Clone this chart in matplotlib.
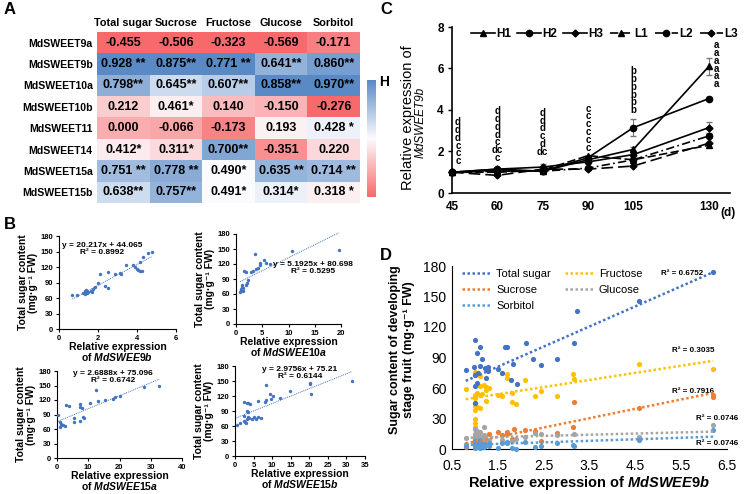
import matplotlib
matplotlib.use('Agg')
import matplotlib.pyplot as plt
import numpy as np
from matplotlib.colors import LinearSegmentedColormap, TwoSlopeNorm
from matplotlib.lines import Line2D

plt.rcParams['font.family'] = ['Liberation Sans', 'DejaVu Sans']
plt.rcParams['mathtext.fontset'] = 'custom'
plt.rcParams['mathtext.rm'] = 'Liberation Sans:bold'
plt.rcParams['mathtext.it'] = 'Liberation Sans:italic:bold'
plt.rcParams['mathtext.bf'] = 'Liberation Sans:bold'

# ---- A: correlation heatmap ----
genes = ['MdSWEET9a', 'MdSWEET9b', 'MdSWEET10a', 'MdSWEET10b',
         'MdSWEET11', 'MdSWEET14', 'MdSWEET15a', 'MdSWEET15b']
sugars = ['Total sugar', 'Sucrose', 'Fructose', 'Glucose', 'Sorbitol']
corr = np.array([
    [-0.455, -0.506, -0.323, -0.569, -0.171],
    [0.928, 0.875, 0.771, 0.641, 0.860],
    [0.798, 0.645, 0.607, 0.858, 0.970],
    [0.212, 0.461, 0.140, -0.150, -0.276],
    [0.000, -0.066, -0.173, 0.193, 0.428],
    [0.412, 0.311, 0.700, -0.351, 0.220],
    [0.751, 0.778, 0.490, 0.635, 0.714],
    [0.638, 0.757, 0.491, 0.314, 0.318],
])
stars = [
    ['', '', '', '', ''],
    [' **', '**', ' **', '**', '**'],
    ['**', '**', '**', '**', '**'],
    ['', '*', '', '', ''],
    ['', '', '', '', ' *'],
    ['*', '*', '**', '', ''],
    [' **', ' **', '*', ' **', ' **'],
    ['**', '**', '*', '*', ' *'],
]

# ---- B: scatter of total sugar vs expression ----
b1_x = [0.69, 0.93, 1.23, 1.32, 1.41, 1.44, 1.35, 1.5, 1.66, 1.75, 1.84, 1.7, 2.0, 2.09,
        2.35, 2.52, 2.52, 2.86, 3.12, 3.2, 3.46, 3.8, 3.9, 3.98, 4.07, 4.15, 4.24, 4.15,
        4.29, 4.58, 4.75]
b1_y = [65, 65, 70, 73, 76, 70, 68, 72, 73, 78, 81, 71, 89, 106, 83, 110, 80, 107, 108,
        107, 123, 123, 120, 117, 114, 112, 112, 130, 140, 147, 149]
b2_x = [0.76, 0.95, 1.2, 1.4, 0.9, 1.1, 1.3, 1.6, 1.9, 1.9, 2.0, 2.2, 2.9, 3.3, 3.75, 4.1,
        4.6, 4.6, 3.6, 5.3, 5.8, 6.5, 10.7, 19.6]
b2_y = [65, 70, 75, 72, 68, 78, 66, 106, 104, 78, 83, 89, 104, 107, 110, 113, 118, 122,
        140, 128, 122, 120, 146, 147]
b3_x = [0.3, 0.9, 1.2, 0.9, 1.4, 1.9, 2.5, 2.8, 3.9, 5.4, 5.4, 7.3, 7.3, 7.5, 8.0, 8.3,
        8.7, 10.7, 12.6, 13.0, 15.3, 17.8, 18.5, 20.2, 27.8, 32.7]
b3_y = [90, 75, 68, 65, 71, 68, 66, 109, 107, 75, 82, 77, 112, 105, 104, 85, 82, 114, 141,
        117, 121, 123, 126, 129, 147, 149]
b4_x = [0.45, 1.4, 2.5, 2.7, 3.2, 3.4, 3.0, 2.5, 2.5, 3.1, 3.6, 4.1, 3.3, 3.6, 3.9, 4.5,
        5.0, 5.7, 6.3, 7.1, 6.2, 8.4, 8.4, 8.1, 9.5, 10.1, 9.8, 12.2, 14.9, 20.2, 20.2,
        20.5, 31.4]
b4_y = [62, 67, 71, 68, 74, 78, 67, 81, 108, 107, 106, 105, 91, 88, 76, 75, 79, 75, 78,
        77, 110, 142, 113, 109, 125, 121, 114, 117, 131, 147, 144, 125, 151]
b_slope = [20.217, 5.1925, 2.6888, 2.9756]
b_inter = [44.065, 80.698, 75.096, 75.21]
b_r2 = ['0.8992', '0.5295', '0.6742', '0.6144']
b_genes = ['MdSWEE9b', 'MdSWEE10a', 'MdSWEE15a', 'MdSWEE15b']

# ---- C: expression time course ----
days = [45, 60, 75, 90, 105, 130]
h1 = [1.0, 1.1, 1.05, 1.6, 2.1, 6.1]
h2 = [1.0, 1.15, 1.05, 1.7, 3.15, 4.55]
h3 = [1.0, 1.15, 1.25, 1.5, 1.85, 3.15]
l1 = [1.0, 1.0, 1.1, 1.8, 1.6, 2.3]
l2 = [1.0, 1.05, 1.05, 1.2, 1.6, 2.75]
l3 = [1.0, 0.85, 1.15, 1.15, 1.3, 2.4]
h1_err = [0.03, 0.06, 0.05, 0.08, 0.1, 0.4]
h2_err = [0.03, 0.06, 0.05, 0.08, 0.4, 0.08]
h3_err = [0.03, 0.05, 0.15, 0.08, 0.1, 0.25]
letters = [['d', 'd', 'd', 'c', 'c', 'c'],
           ['d', 'd', 'd', 'd', 'c', 'dc', 'c'],
           ['d', 'd', 'd', 'c', 'd', 'dc'],
           ['c', 'c', 'c', 'c', 'c', 'c'],
           ['b', 'b', 'b', 'b', 'b', 'b'],
           ['a', 'a', 'a', 'a', 'a', 'a']]

# ---- D: sugar content vs MdSWEET9b ----
tot_x = [0.8, 1.0, 0.99, 1.0, 1.0, 1.0, 1.04, 1.1, 1.11, 1.07, 1.04, 1.15, 1.22, 1.25, 1.29,
         1.25, 1.29, 1.51, 1.58, 1.66, 1.69, 1.78, 1.84, 1.91, 2.11, 2.27, 2.44, 2.8, 3.17,
         3.22, 4.58, 6.2]
tot_y = [78, 107, 81, 73, 62, 45, 94, 100, 82, 75, 65, 89, 80, 79, 81, 70, 77, 79, 75, 100,
         100, 68, 84, 64, 104, 89, 83, 89, 104, 136, 146, 174]
fru_x = [0.8, 1.0, 1.0, 1.0, 1.0, 1.0, 1.0, 1.0, 1.0, 1.0, 1.0, 1.05, 1.05, 1.05, 1.1, 1.1,
         1.1, 1.1, 1.15, 1.2, 1.25, 1.25, 1.25, 1.3, 1.5, 1.6, 1.6, 1.7, 1.7, 1.8, 1.8, 1.9,
         2.1, 2.3, 2.45, 2.8, 3.15, 3.17, 4.58, 6.2]
fru_y = [59, 76, 73, 53, 50, 45, 42, 38, 30, 26, 22, 63, 55, 41, 72, 62, 53, 40, 54, 63, 61,
         58, 47, 60, 53, 52, 75, 70, 74, 55, 46, 44, 68, 52, 57, 52, 74, 69, 84, 79]
suc_x = [0.8, 1.0, 1.0, 1.0, 1.0, 1.1, 1.1, 1.2, 1.3, 1.5, 1.6, 1.7, 1.7, 1.8, 1.85, 2.1,
         2.3, 2.45, 2.8, 3.15, 3.17, 4.58, 6.2, 6.2]
suc_y = [2, 5, 8, 10, 12, 9, 6, 8, 15, 17, 14, 15, 17, 10, 20, 19, 18, 8, 16, 22, 46, 40,
         51, 53]
glu_x = [0.8, 0.8, 1.0, 1.0, 1.0, 1.0, 1.0, 1.05, 1.05, 1.1, 1.1, 1.2, 1.2, 1.2, 1.3, 1.6,
         1.8, 1.9, 2.1, 2.3, 2.45, 2.8, 3.17, 4.58, 6.2]
glu_y = [11, 5, 20, 15, 12, 10, 7, 18, 14, 17, 12, 22, 14, 10, 9, 9, 8, 10, 12, 16, 15, 14,
         15, 12, 24]
sor_x = [0.8, 1.0, 1.0, 1.0, 1.0, 1.05, 1.05, 1.1, 1.1, 1.1, 1.2, 1.2, 1.3, 1.3, 1.5, 1.6,
         1.7, 1.7, 1.8, 1.9, 2.1, 2.3, 2.45, 2.8, 3.15, 3.17, 4.58, 6.2]
sor_y = [3, 8, 5, 3, 1, 6, 2, 4, 1, 9, 5, 2, 6, 3, 1, 6, 6, 7, 1, 0, 7, 2, 3, 6, 4, 3, 9, 19]
d_names = ['Total sugar', 'Sucrose', 'Sorbitol', 'Fructose', 'Glucose']
d_colors = ['#4472C4', '#ED7D31', '#5B9BD5', '#FFC000', '#A5A5A5']
d_slope = [19.8, 9.2, 1.5, 7.0, 1.13]
d_inter = [51.2, -1.9, 2.8, 43.4, 10.1]
d_r2 = ['0.6752', '0.7916', '0.0746', '0.3035', '0.0746']

W, H = 745, 494
fig = plt.figure(figsize=(7.45, 4.94), dpi=100)


def box(x0, y0, x1, y1):
    return [x0 / W, 1 - y1 / H, (x1 - x0) / W, (y1 - y0) / H]


# ---------- A ----------
cmap = LinearSegmentedColormap.from_list('rwb', ['#F8696B', '#FCFCFF', '#5A8AC6'])
ax = fig.add_axes(box(97, 32, 360, 203))
rgba = np.zeros((len(genes), len(sugars), 4))
for j in range(len(sugars)):
    col = corr[:, j]
    norm = TwoSlopeNorm(vmin=col.min(), vcenter=np.median(col), vmax=col.max())
    rgba[:, j] = cmap(norm(col))
ax.imshow(rgba, aspect='auto', interpolation='nearest')
for i in range(len(genes)):
    for j in range(len(sugars)):
        ax.text(j, i, f'{corr[i, j]:.3f}{stars[i][j]}', ha='center', va='center',
                fontsize=9, fontweight='bold')
ax.set_xticks(range(len(sugars)))
ax.set_xticklabels(sugars, fontsize=7.8, fontweight='bold')
ax.xaxis.tick_top()
ax.set_yticks(range(len(genes)))
ax.set_yticklabels(genes, fontsize=7.6, fontweight='bold')
ax.tick_params(length=0, pad=3)
for s in ax.spines.values():
    s.set_visible(False)

cb = fig.add_axes(box(367, 80, 376, 197))
cb.imshow(np.linspace(1, 0, 256)[:, None], cmap=cmap, aspect='auto')
cb.axis('off')
fig.text(384 / W, 1 - 82 / H, 'H', fontsize=10, fontweight='bold', ha='center', va='center')

# ---------- B ----------
b_boxes = [box(59, 236, 176, 329), box(236, 234, 341, 324),
           box(57, 371, 182, 458), box(235, 366, 365, 456)]
b_xs = [b1_x, b2_x, b3_x, b4_x]
b_ys = [b1_y, b2_y, b3_y, b4_y]
b_xlim = [(0, 6), (0, 20), (0, 40), (0, 35)]
b_xticks = [[0, 2, 4, 6], [0, 5, 10, 15, 20], [0, 10, 20, 30, 40], list(range(0, 36, 5))]
b_eqpos = [(0.37, 0.86), (0.73, 0.62), (0.45, 0.93), (0.5, 0.92)]
for k in range(4):
    ax = fig.add_axes(b_boxes[k])
    x = np.array(b_xs[k])
    ax.scatter(x, b_ys[k], s=6, color='#4472C4', zorder=3, linewidths=0)
    xx = np.array([x.min(), x.max()])
    ax.plot(xx, b_slope[k] * xx + b_inter[k], ls=(0, (1, 1)), lw=0.7, color='#4472C4',
            clip_on=False)
    ax.set_xlim(*b_xlim[k])
    ax.set_ylim(0, 180)
    ax.set_xticks(b_xticks[k])
    ax.set_yticks(range(0, 181, 30))
    ax.tick_params(labelsize=5.5, length=2.5, width=0.8, pad=1.5)
    for lab in ax.get_xticklabels() + ax.get_yticklabels():
        lab.set_fontweight('bold')
    ax.spines['top'].set_visible(False)
    ax.spines['right'].set_visible(False)
    ax.set_ylabel('Total sugar content\n(mg·g⁻¹ FW)', fontsize=7.5, fontweight='bold',
                  labelpad=2, linespacing=1.0)
    ax.set_xlabel('Relative expression\nof $\\it{' + b_genes[k] + '}$', fontsize=7.5,
                  fontweight='bold', labelpad=0, linespacing=0.95)
    ax.text(b_eqpos[k][0], b_eqpos[k][1],
            f'y = {b_slope[k]}x + {b_inter[k]}\nR² = {b_r2[k]}',
            transform=ax.transAxes, ha='center', va='center', fontsize=6,
            fontweight='bold', linespacing=1.1)

# ---------- C ----------
ax = fig.add_axes(box(452, 27, 730, 193))
series = [(h1, h1_err, '-', '^', 'H1'), (h2, h2_err, '-', 'o', 'H2'),
          (h3, h3_err, '-', 'D', 'H3'), (l1, None, (0, (5, 2)), '^', 'L1'),
          (l2, None, (0, (5, 2, 1, 2)), 'o', 'L2'), (l3, None, (0, (7, 3)), 'D', 'L3')]
handles = []
for vals, err, ls, mk, name in series:
    ms = 3.5 if mk == 'D' else 4.5
    ax.plot(days, vals, ls=ls, marker=mk, ms=ms, color='black', lw=1.2, clip_on=False,
            zorder=3)
    if err is not None:
        ax.errorbar(days, vals, yerr=err, fmt='none', ecolor='#777777', elinewidth=0.8,
                    capsize=2, zorder=2)
    handles.append(Line2D([], [], ls=ls, marker=mk, ms=ms, color='black', lw=1.2, label=name))
let_x = [47, 60, 75, 90, 105, 132.5]
let_y = [1.3, 1.45, 1.75, 1.95, 3.75, 5.0]
for k in range(len(days)):
    ax.text(let_x[k], let_y[k], '\n'.join(letters[k]), ha='center', va='bottom',
            fontsize=7, fontweight='bold', linespacing=0.72)
ax.set_xlim(45, 137)
ax.set_ylim(0, 8)
ax.set_xticks(days)
ax.set_yticks(range(0, 9, 2))
ax.tick_params(labelsize=8.5, length=3, width=1, pad=3)
ax.tick_params(axis='x', length=0, pad=6)
for lab in ax.get_xticklabels() + ax.get_yticklabels():
    lab.set_fontweight('bold')
ax.spines['top'].set_visible(False)
ax.spines['right'].set_visible(False)
ax.spines['left'].set_linewidth(1.2)
ax.spines['bottom'].set_linewidth(1.2)
ax.text(136.5, -0.95, '(d)', fontsize=8.5, fontweight='bold', ha='center', va='center')
ax.legend(handles=handles, ncol=6, loc='upper left', bbox_to_anchor=(0.03, 1.06),
          frameon=False, prop={'size': 8.5, 'weight': 'bold'}, handlelength=2.0,
          handletextpad=0.1, columnspacing=0.55)
fig.text(408 / W, 1 - 118 / H, 'Relative expression of', rotation=90, fontsize=10.5,
         ha='center', va='center')
fig.text(421 / W, 1 - 122 / H, 'MdSWEET9b', rotation=90, fontsize=8.5, style='italic',
         ha='center', va='center')

# ---------- D ----------
ax = fig.add_axes(box(452, 266, 727, 449))
d_xs = [tot_x, suc_x, sor_x, fru_x, glu_x]
d_ys = [tot_y, suc_y, sor_y, fru_y, glu_y]
draw_order = [3, 1, 4, 2, 0]
for k in draw_order:
    ax.scatter(d_xs[k], d_ys[k], s=14, color=d_colors[k], linewidths=0, zorder=3,
               clip_on=False)
lines = []
for k in range(5):
    x = np.array(d_xs[k])
    xx = np.array([x.min(), x.max()])
    ln, = ax.plot(xx, d_slope[k] * xx + d_inter[k], ls=(0, (1, 1)), lw=1.8,
                  color=d_colors[k], label=d_names[k], zorder=4)
    lines.append(ln)
r2_pos = [(5.52, 173), (5.76, 57), (6.29, 5), (5.76, 97), (6.29, 30)]
for k in range(5):
    ax.text(r2_pos[k][0], r2_pos[k][1], f'R² = {d_r2[k]}', fontsize=5.8,
            fontweight='bold', ha='center', va='center')
ax.set_xlim(0.5, 6.5)
ax.set_ylim(0, 180)
ax.set_xticks(np.arange(0.5, 6.6, 1.0))
ax.set_yticks(range(0, 181, 30))
ax.tick_params(labelsize=10, length=0, pad=4)
ax.tick_params(axis='x', pad=7)
ax.spines['top'].set_visible(False)
ax.spines['right'].set_visible(False)
ax.legend(handles=lines, ncol=2, loc='upper left', bbox_to_anchor=(0.0, 1.04),
          frameon=False, fontsize=8, handlelength=2.6, columnspacing=1.2,
          labelspacing=0.55, handletextpad=0.5)
ax.set_xlabel('Relative expression of $\\it{MdSWEE9b}$', fontsize=10.5, fontweight='bold',
              labelpad=1)
fig.text(402 / W, 1 - 350 / H, 'Sugar content of developing\nstage fruit (mg·g⁻¹ FW)',
         rotation=90, fontsize=9, fontweight='bold', ha='center', va='center',
         linespacing=1.15)

# panel letters
for lab, (px, py) in {'A': (10, 10), 'B': (10, 224), 'C': (386, 10), 'D': (386, 255)}.items():
    fig.text(px / W, 1 - py / H, lab, fontsize=12, fontweight='bold', ha='center',
             va='center')

fig.savefig('out.png', dpi=100)
